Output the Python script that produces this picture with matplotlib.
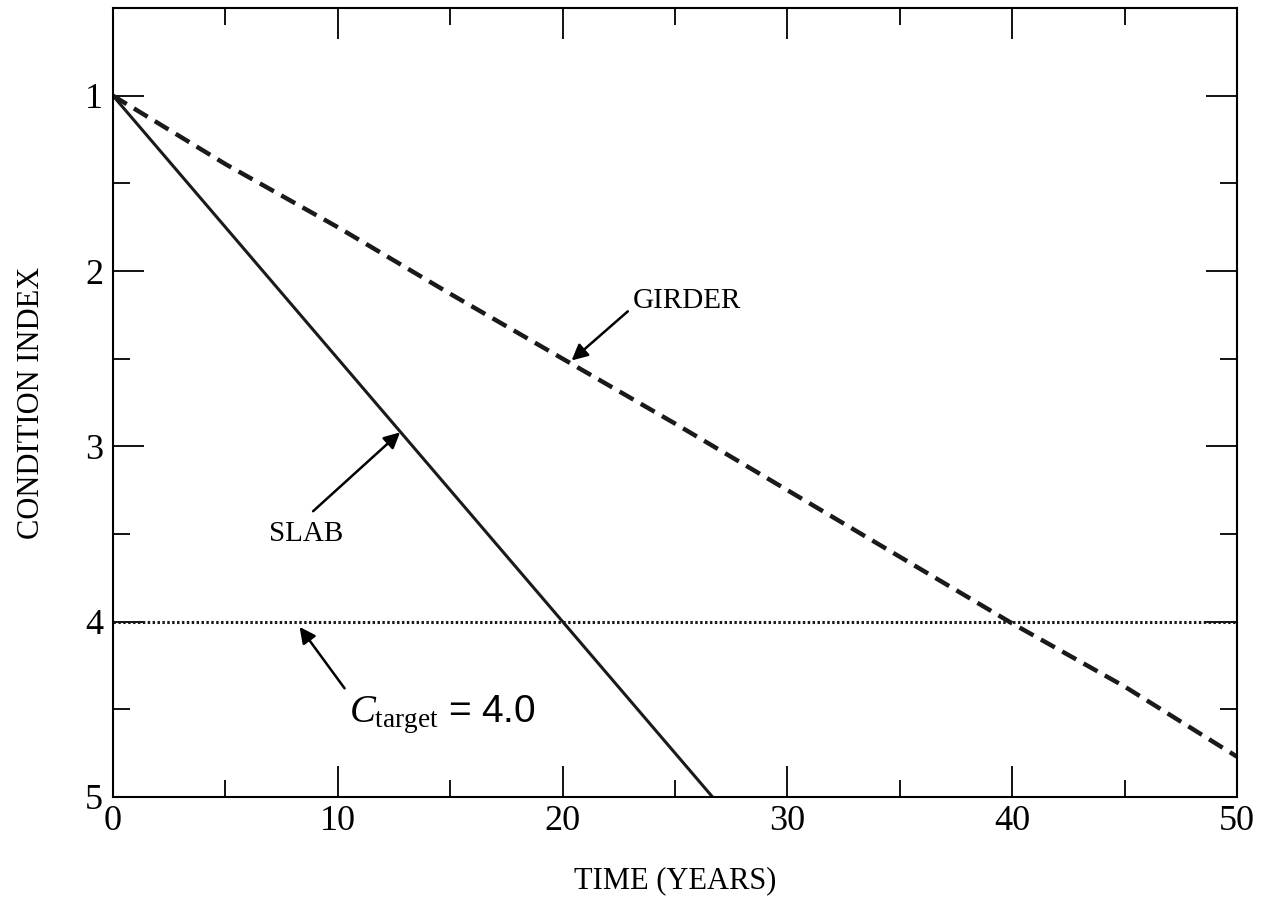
import matplotlib
matplotlib.use("Agg")
import matplotlib.pyplot as plt
import numpy as np

plt.rcParams['font.family'] = ['Liberation Serif', 'DejaVu Serif']
plt.rcParams['mathtext.fontset'] = 'custom'
plt.rcParams['mathtext.rm'] = 'Liberation Serif'
plt.rcParams['mathtext.it'] = 'Liberation Serif:italic'
plt.rcParams['mathtext.sf'] = 'Liberation Sans'

slab_years = [0, 26.67]
slab_index = [1.0, 5.0]
girder_years = [0, 5, 10, 15, 20, 25, 30, 35, 40, 45, 50]
girder_index = [1.0, 1.39, 1.75, 2.13, 2.50, 2.87, 3.25, 3.63, 4.01, 4.37, 4.77]
c_target = 4.0

fig = plt.figure(figsize=(12.7, 8.97), dpi=100)
ax = fig.add_axes([0.089, 0.1115, 0.885, 0.8795])

ax.plot(slab_years, slab_index, color='#1a1a1a', lw=2.2, solid_capstyle='butt')
ax.plot(girder_years, girder_index, color='#1a1a1a', lw=3.2, dashes=(3.6, 1.9))
ax.axhline(c_target, color='#1a1a1a', lw=2.2, ls=(0, (0.8, 0.8)))

ax.set_xlim(0, 50)
ax.set_ylim(5, 0.5)
ax.set_xticks(np.arange(0, 51, 10))
ax.set_xticks(np.arange(5, 50, 10), minor=True)
ax.set_yticks([1, 2, 3, 4, 5])
ax.set_yticks([1.5, 2.5, 3.5, 4.5], minor=True)
ax.tick_params(which='both', direction='in', top=True, right=True,
               width=1.3, labelsize=26)
ax.tick_params(which='major', length=22)
ax.tick_params(which='minor', length=12)
ax.tick_params(axis='x', which='major', pad=6)
ax.tick_params(axis='y', which='major', pad=7)
for s in ax.spines.values():
    s.set_linewidth(1.5)

ax.set_xlabel('TIME (YEARS)', fontsize=22, labelpad=20)
ax.set_ylabel('CONDITION INDEX', fontsize=22, labelpad=28)

arrow = dict(arrowstyle='-|>', color='black', lw=1.8, mutation_scale=24,
             shrinkA=0, shrinkB=0)
ax.annotate('', xy=(20.4, 2.51), xytext=(22.9, 2.23), arrowprops=arrow)
ax.text(23.1, 2.17, 'GIRDER', fontsize=21, ha='left', va='center')

ax.annotate('', xy=(12.77, 2.92), xytext=(8.9, 3.37), arrowprops=arrow)
ax.text(8.6, 3.50, 'SLAB', fontsize=21, ha='center', va='center')

ax.annotate('', xy=(8.3, 4.03), xytext=(10.3, 4.38), arrowprops=arrow)
ax.text(10.5, 4.53, r'$C_{\mathrm{target}}\,\mathsf{=}\,\mathsf{4.0}$',
        fontsize=28, ha='left', va='center')

fig.savefig('out.png', dpi=100)
